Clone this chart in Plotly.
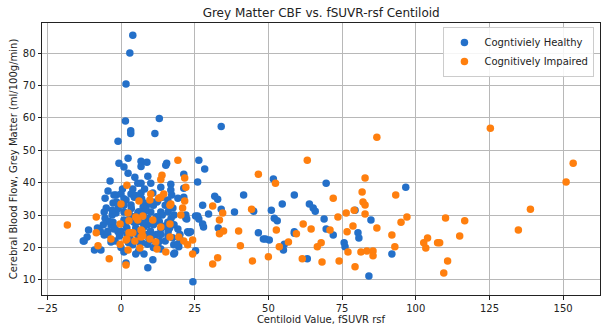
import plotly.graph_objects as go

healthy_x = [4, 3, 1.7, 1.5, 13, 34, 3.3, 3.3, 11.5, -1, 2.4, -0.7, 1, 6.8, 6.8, 8.8, 15.5, 15.2, 26.4, 28.4,
             -3.7, 4.7, 2.4, 9.1, 6.8, 10.1, -4.4, -5.4, -2.4, 26, 21.3, 31.8, 32.8, 41.6, 38.5, 34, 27.7, 29.7,
             26, 22, 28, 33, 23, 46.6, 45, 25.3, 24.4, 9.1, 10.8, 1.7, -9, -12.5, -11, -6.8, 18.2, 19.3, 17.2,
             21.3, 21.3, 5.7, 16.9, 13.5, -1.7, 3.4, 6.8, 10.8, 1.7, -2.7, -5, 3.4, 7.8, 12.2, 15.9, 16.9, 19.3,
             -5.7, -1.7, 1, 5.7, 10.1, 13.5, 17.6, -5.4, -2.7, 1, 9.1, 12.5, 15.9, 4.4, -5.7, -3.4, -2.4, 1, 5,
             7.8, 12.5, 13.5, 15.9, 17.9, 17.9, 19.6, 16.9, 7.8, -3.4, 10.1, 4, -1, 5.7, 22, 22.3, 25.3, 26.4,
             27.7, 19.3, 22.6, 23.6, 19.3, 48.3, -11.5, -12.8, 51.7, 69.6, 96.6, 58.8, 54.7, 51, 63.9, 65.2,
             65.9, 79.4, 68.9, 52, 53, 69.6, 72, 49, 50.3, 58.8, 58.8, 55.4, 55.1, 75.7, 76, 80.4, 80.7, 84.8,
             63.2, 84.1, 91.9,
             0, 2, 3, 5, 6, 8, 9, 10, 11, 12, 14, 15, -3, -4, -2, 0, 1, 4, 7, 8, 11, 13, 16, 18, 20, -6, -7, -1,
             2.5, 4.5, 6.5, 8.5, 10.5, 12.5, 14.5, -0.5, 3.5, 9.5, 11.5, 0.5, 5.5, 7.5, 13.5, 17.5, -8, -4.5,
             1.5, 3, 4.5, 6, 7.5, 9, 10.5, 12, 13.5, 15, 16.5, 18, 0, -1.5, -3, -4.5, 2, 5, 8, 11, 14, 17, 20,
             -2, 1, 4, 7, 10, 13, 16, 6, 9]
healthy_y = [85.5, 80, 70.5, 59, 59.8, 57.3, 56, 55.2, 55.2, 52.8, 47.5, 46, 44.8, 46.6, 45, 46.3, 46, 45.4, 46.9, 44.2,
             40.5, 41.7, 42.9, 42, 39.8, 39.8, 37.4, 35.2, 36.2, 40.2, 42.6, 35.8, 34.9, 36.2, 30.9, 31.8, 33, 30.3,
             29.7, 29, 26.3, 26, 24.5, 24.5, 31.2, 19, 9.4, 13.7, 16.2, 15.2, 19.2, 22, 25.4, 19.2, 18.3, 20.8, 36.2,
             35.5, 38.3, 39.8, 39.5, 38.6, 36.2, 36.5, 36.8, 36.8, 34.6, 33.7, 32.2, 33.1, 33.7, 34, 34.6, 37.7, 35.2,
             30.9, 30.6, 30.9, 30.6, 30.9, 30.9, 32.2, 29, 27.8, 28.5, 29, 28.5, 27.8, 27.8, 23.8, 21.7, 25.7, 18.6, 18,
             18, 20.8, 25.7, 23.8, 18, 20.8, 20.2, 26.9, 26.3, 26.9, 22.3, 20.8, 24.8, 23.8, 30, 28.8, 29.7, 28.8,
             27.2, 25.7, 24.8, 24.8, 21, 22.6, 23.2, 22, 41.1, 39.8, 38.6, 36.2, 33.4, 31.5, 33.4, 32.2,
             31.2, 31.5, 28.8, 29, 28.2, 25.7, 23.8, 22.6, 22.3, 24.8, 24.4, 21, 19.2, 21.4, 20.2, 24.5, 22.9, 28.5,
             16.5, 11.2, 18,
             25, 26, 23, 26, 31, 24, 27, 25, 33, 24, 30, 22, 30, 28, 22, 20, 35, 38, 35, 38, 20, 22, 31, 27, 24, 27, 25, 32,
             21.5, 29.5, 21.5, 32.5, 23.5, 34.5, 26.5, 23.5, 32, 22.5, 28, 38, 24.5, 27.5, 19.5, 23, 26, 24,
             27, 30, 35.5, 28, 32.5, 21, 34, 29.5, 24, 33, 26, 30, 36.5, 34, 31.5, 25, 24, 36, 31, 27, 35.5, 29, 22.5,
             26, 33, 29, 21.5, 33.5, 28, 25, 19, 24]

impaired_x = [19.3, 13.9, 13.5, 21.6, 22, 2, 10.1, 9.8, 6.1, 13.5, 14.5, 21.6, 16.6, 0, 20.9, 20.3, 31.1, 34.5,
              33.4, 34.8, 33.4, 39.9, 40.5, 32.8, 31.1, 44.6, 44.3, 46.6, -18.2, -8.4, -8.4, -7.8, -4, 1.7, -0.3,
              2.7, 5.4, 7.4, 10.8, 16.6, 13.5, 6.8, 4, 2.7, 7.4, -3.4, 1.7, 4.7, 6.8, 9.8, 11.8, 16.6, 19.6, 21.3,
              24.3, 22.6, -0.3, 6.4, 2.4, 12.2, 15.2, 24.3, 12.8, 16.9, 2.4, 5, 5.7, 2, 7.1, 3.4,
              63.2, 52.4, 82.8, 81.8, 82.1, 82.8, 93.2, 72, 79.1, 82.8, 76.4, 73.6, 97, 95, 61.8, 64.5, 78.7, 86.8,
              52.7, 59.5, 70.9, 76.7, 91.9, 56.8, 53.7, 66.6, 67.9, 77, 81.4, 83.4, 85.5, 85.5, 92.9, 102.7, 104,
              103.4, 107.4, 110.1, 110.8, 109.5, 50, 61.5, 68.2, 74, 79.4, 86.8, 125.3, 153.4, 151, 138.9, 134.8,
              116.6, 114.9, 108.1]
impaired_y = [46.9, 42.3, 41, 41.4, 38.6, 39.2, 36.5, 34.6, 34.3, 35.5, 36.5, 34.3, 33, 33.4, 32.2, 30, 32.8, 30.6,
              28.5, 25.1, 24.2, 25.1, 20.5, 16.8, 14.9, 15.8, 31.8, 42.6, 26.9, 29.4, 24.5, 20.5, 16.5, 14.6, 27.2,
              28.2, 29, 29.7, 28.5, 27.2, 26.3, 25.4, 24.5, 24.5, 23.5, 22.6, 22.3, 22, 23.2, 22.6, 21.7, 23.2, 23.2, 22,
              22.3, 20.8, 21, 19.8, 19.2, 19.5, 18.6, 18, 35.2, 33.4, 30.6, 29.4, 28.5, 22.6, 25.1, 24.5,
              46.9, 39.8, 41.4, 37.1, 34, 33.1, 36.2, 35.2, 31.5, 30.3, 30.6, 29.4, 29.4, 27.8, 27.2, 25.7, 26.6, 26,
              25.4, 24.2, 25.4, 24.8, 23.8, 21.7, 20.2, 20.2, 21.4, 18.6, 18.6, 18.9, 18.9, 17.4, 20.2, 21.4, 22.9,
              19.8, 21.4, 29.1, 15.8, 12.1, 17.1, 16.5, 15.5, 15.8, 14, 54, 56.8, 46, 40.2, 31.8, 25.4,
              28.2, 23.5, 21.4]

font = "DejaVu Sans, Arial, sans-serif"

fig = go.Figure()
fig.add_trace(go.Scatter(x=healthy_x, y=healthy_y, mode="markers", name="Cogntiviely Healthy",
                         marker=dict(color="#2470c9", size=7.5, line=dict(width=0))))
fig.add_trace(go.Scatter(x=impaired_x, y=impaired_y, mode="markers", name="Cognitively Impaired",
                         marker=dict(color="#ff7f0e", size=7.5, line=dict(width=0))))

axis_common = dict(showline=True, linecolor="#222", linewidth=1, mirror=True,
                   showgrid=True, gridcolor="#b8b8b8", gridwidth=1, zeroline=False,
                   ticks="outside", ticklen=3.5, tickcolor="#222", automargin=False,
                   tickfont=dict(family=font, size=10, color="#222"))

fig.update_layout(
    width=606, height=333,
    margin=dict(l=42, r=6, t=23, b=38),
    paper_bgcolor="white", plot_bgcolor="white",
    title=dict(text="Grey Matter CBF vs. fSUVR-rsf Centiloid", x=0.53, xanchor="center",
               y=0.962, yanchor="middle", font=dict(family=font, size=12, color="#222")),
    xaxis=dict(range=[-26.8, 162.5], tickvals=[-25, 0, 25, 50, 75, 100, 125, 150],
               title=dict(text="Centiloid Value, fSUVR rsf", font=dict(family=font, size=10, color="#222"), standoff=3),
               **axis_common),
    yaxis=dict(range=[5.3, 89.3], tickvals=[10, 20, 30, 40, 50, 60, 70, 80],
               title=dict(text="Cerebral Blood Flow, Grey Matter (ml/100g/min)", font=dict(family=font, size=10, color="#222"), standoff=3),
               **axis_common),
    showlegend=True,
    legend=dict(x=0.99, y=0.985, xanchor="right", yanchor="top", bgcolor="rgba(255,255,255,0.85)",
                bordercolor="#ccc", borderwidth=1, font=dict(family=font, size=10, color="#222"),
                itemsizing="trace", tracegroupgap=0),
)

fig.write_html("out.html", config={"displayModeBar": False},
               post_script="document.body.style.margin='0';document.body.style.overflow='hidden';")
